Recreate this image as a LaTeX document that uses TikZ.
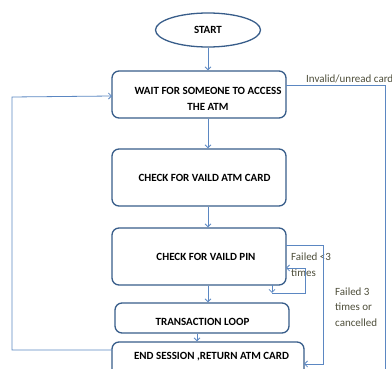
\documentclass[tikz,border=0pt]{standalone}
\usepackage{fontspec}
\setmainfont{Carlito}
\usetikzlibrary{arrows.meta,shapes.geometric,calc}
\definecolor{boxline}{HTML}{385D8A}
\definecolor{connline}{HTML}{5B87C2}
\definecolor{labeltext}{HTML}{4E4E3A}
\tikzset{
  box/.style={draw=boxline, line width=1.3pt, rounded corners=7pt, fill=white, inner sep=0pt},
  boxtext/.style={font=\fontsize{11}{16}\selectfont\bfseries, align=center, inner sep=0pt, text=black},
  conn/.style={draw=connline, line width=0.8pt},
  arr/.style={conn, -{Straight Barb[length=3pt,width=6pt]}},
  lbl/.style={font=\fontsize{11}{16}\selectfont, text=labeltext, inner sep=0pt, anchor=west, align=left}
}
\begin{document}
\begin{tikzpicture}[x=1pt,y=-1pt]
\useasboundingbox (0,0) rectangle (392,369);
% boxes
\node[box, ellipse, minimum width=105pt, minimum height=34pt] (start) at (208,30) {};
\node[box, minimum width=174pt, minimum height=47pt] (wait) at (199,94.5) {};
\node[box, minimum width=174pt, minimum height=57pt] (card) at (199,177.5) {};
\node[box, minimum width=174pt, minimum height=57pt] (pin) at (199,256.5) {};
\node[box, minimum width=174pt, minimum height=30pt] (trans) at (202,318) {};
\node[box, minimum width=192pt, minimum height=42pt] (end) at (208,363) {};
% texts
\node[boxtext] (startT) at (208,30) {START};
\node[boxtext] (waitT) at (208,99) {WAIT FOR SOMEONE TO ACCESS\\THE ATM};
\node[boxtext] (cardT) at (204.5,178) {CHECK FOR VAILD ATM CARD};
\node[boxtext] (pinT) at (206,257) {CHECK FOR VAILD PIN};
\node[boxtext] (transT) at (202.5,322) {TRANSACTION LOOP};
\node[boxtext] (endT) at (211.5,357) {END SESSION ,RETURN ATM CARD};
% labels
\node[lbl] (invl) at (306,79) {Invalid/unread card};
\node[lbl] (f3a) at (291,257) {Failed <3};
\node[lbl] (f3b) at (291,273) {times};
\node[lbl] (f3c) at (335,292) {Failed 3};
\node[lbl] (f3d) at (335,307) {times or};
\node[lbl] (f3e) at (335,323) {cancelled};
% axis coordinates
\coordinate (ax) at (208,0);
\coordinate (ax2) at (197,0);
% vertical flow
\draw[arr] (start.south) -- (start.south |- wait.north);
\draw[arr] (wait.south -| ax) -- (card.north -| ax);
\draw[arr] (card.south -| ax) -- (pin.north -| ax);
\draw[arr] (pin.south -| ax) -- (trans.north -| ax);
\draw[arr] (trans.south -| ax2) -- (end.north -| ax2);
% loop back from end session to wait
\coordinate (eL) at (112,350);
\coordinate (l1) at (12,350);
\coordinate (l2) at (12,97);
\coordinate (wL) at (112,96);
\draw[arr] (eL) -- (l1) -- (l2) -- (wL);
% invalid card
\coordinate (wR) at (286,85);
\coordinate (r1) at (385,85);
\coordinate (r2) at (385,375);
\draw[conn] (wR) -- (r1) -- (r2);
% failed 3 times
\coordinate (pR1) at (286,245);
\coordinate (q1) at (323,245);
\coordinate (q2) at (323,364);
\coordinate (eR) at (304,364);
\draw[arr] (pR1) -- (q1) -- (q2) -- (eR);
% failed < 3 times
\coordinate (pB) at (272,285);
\coordinate (s1) at (272,293);
\coordinate (s2) at (305,293);
\coordinate (s3) at (305,268);
\coordinate (pR2) at (286,268);
\draw[arr] (pB) -- (s1);
\draw[arr] (s1) -- (s2) -- (s3) -- (pR2);
\end{tikzpicture}
\end{document}
